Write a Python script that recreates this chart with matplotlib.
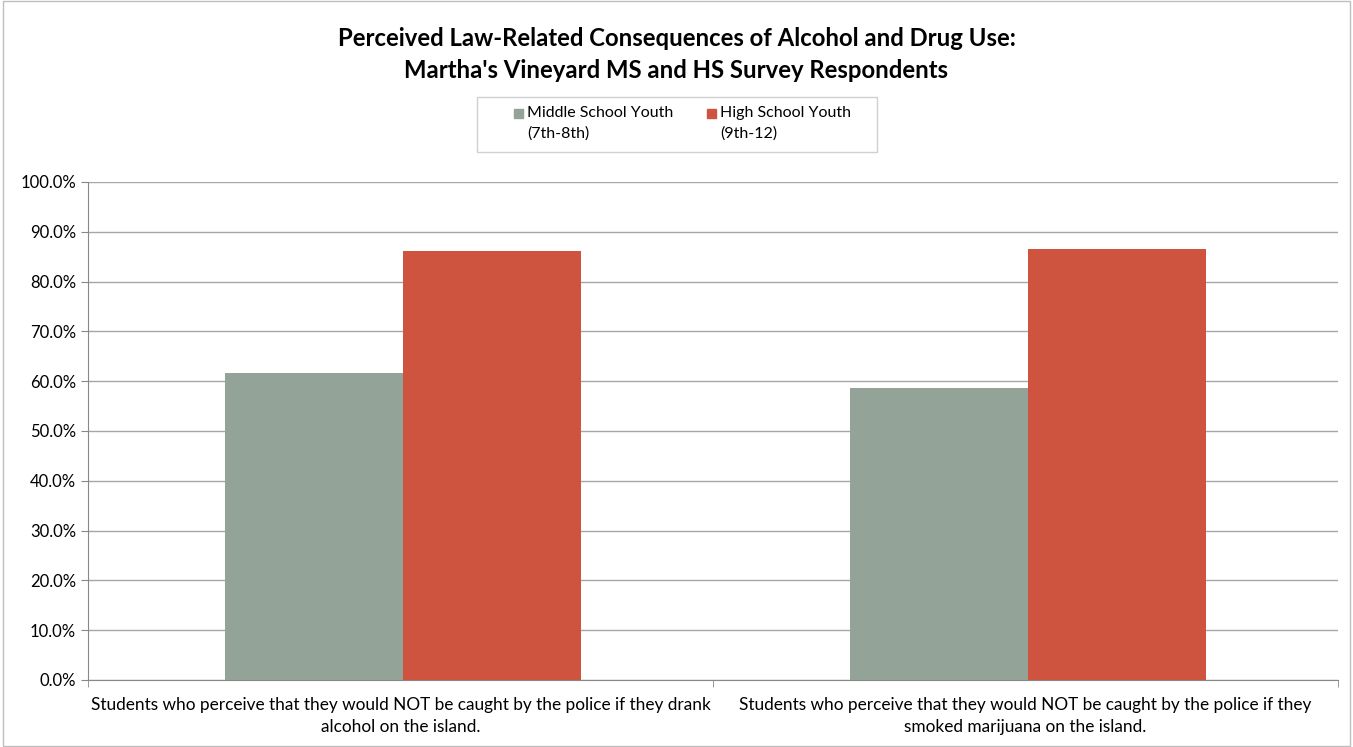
import matplotlib.pyplot as plt
import matplotlib.patches as mpatches
import numpy as np

plt.rcParams['font.family'] = ['Lato', 'DejaVu Sans']

categories = [
    "Students who perceive that they would NOT be caught by the police if they drank\nalcohol on the island.",
    "Students who perceive that they would NOT be caught by the police if they\nsmoked marijuana on the island.",
]
series_names = [("Middle School Youth", "(7th-8th)"), ("High School Youth", "(9th-12)")]
middle_school = [61.7, 58.7]
high_school = [86.1, 86.6]
colors = ['#93A398', '#CE543F']

fig = plt.figure(figsize=(13.53, 7.47), dpi=100)
ax = fig.add_axes([0.065, 0.0897, 0.924, 0.6667])

x = np.arange(len(categories))
w = 0.285
ax.bar(x - w / 2 + 0.004, middle_school, w, color=colors[0], zorder=3)
ax.bar(x + w / 2 + 0.004, high_school, w, color=colors[1], zorder=3)

ax.set_xlim(-0.5, len(categories) - 0.5)
ax.set_ylim(0, 100)
ax.set_yticks(np.arange(0, 101, 10))
ax.set_yticklabels([f"{v:.1f}%" for v in np.arange(0, 101, 10)], fontsize=12)
ax.yaxis.grid(True, color='#A6A6A6', linewidth=1, zorder=0)

ax.set_xticks(x)
ax.set_xticklabels(categories, fontsize=12.4, linespacing=1.45)
ax.set_xticks([-0.5, 0.5, 1.5], minor=True)
ax.tick_params(axis='x', which='major', length=0, pad=12)
ax.tick_params(axis='x', which='minor', length=5, color='#888888')
ax.tick_params(axis='y', length=5, color='#888888')

for s in ['top', 'right']:
    ax.spines[s].set_visible(False)
for s in ['left', 'bottom']:
    ax.spines[s].set_color('#888888')

fig.text(0.5, 0.927, "Perceived Law-Related Consequences of Alcohol and Drug Use:\nMartha's Vineyard MS and HS Survey Respondents",
         ha='center', va='center', fontsize=17.2, fontweight='bold', linespacing=1.45)

# legend drawn by hand so the swatch sits beside the first line
fig.patches.append(mpatches.Rectangle((477 / 1353, 1 - 152 / 747), 400 / 1353, 55 / 747,
                                      transform=fig.transFigure, fill=False,
                                      edgecolor='#D0D0D0', linewidth=1))
for (line1, line2), col, x0 in zip(series_names, colors, [514, 707]):
    fig.patches.append(mpatches.Rectangle((x0 / 1353, 1 - 118 / 747), 9 / 1353, 9 / 747,
                                          transform=fig.transFigure, color=col))
    fig.text((x0 + 13) / 1353, 1 - 113 / 747, line1, fontsize=11.5, va='center')
    fig.text((x0 + 13) / 1353, 1 - 134 / 747, line2, fontsize=11.5, va='center')

fig.patches.append(mpatches.Rectangle((0.002, 0.002), 0.996, 0.996, transform=fig.transFigure,
                                      fill=False, edgecolor='#BFBFBF', linewidth=1))

fig.savefig('out.png', dpi=100)
